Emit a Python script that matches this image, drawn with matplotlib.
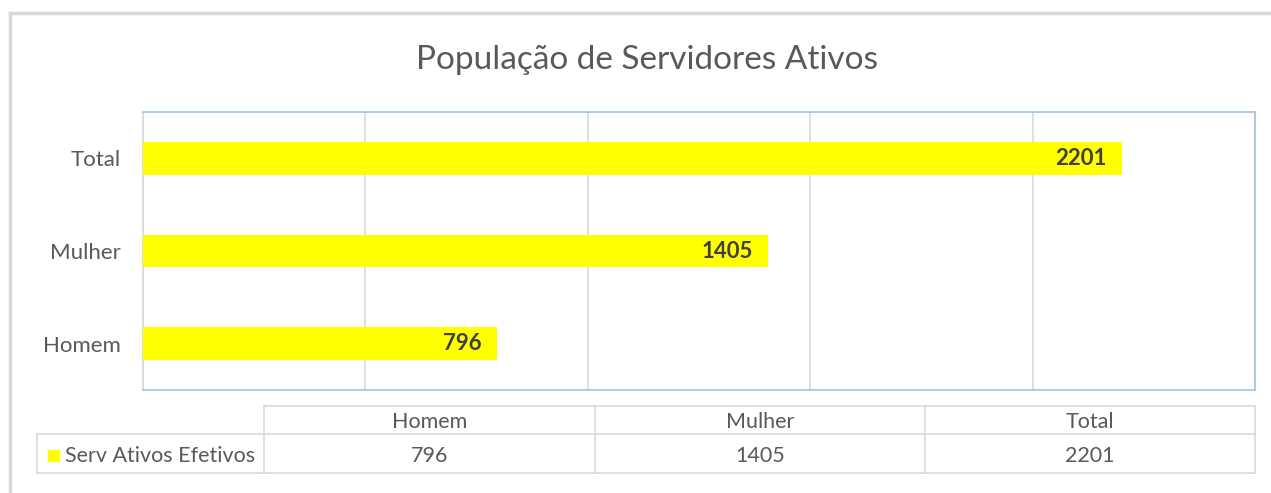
import matplotlib.pyplot as plt
from matplotlib.lines import Line2D
from matplotlib.patches import Rectangle

plt.rcParams['font.family'] = ['Lato', 'DejaVu Sans']

categories = ['Homem', 'Mulher', 'Total']
values = [796, 1405, 2201]
series_name = 'Serv Ativos Efetivos'
title = 'População de Servidores Ativos'
xticks = [0, 500, 1000, 1500, 2000, 2500]

W, H = 1271, 493
fig = plt.figure(figsize=(W / 100, H / 100), dpi=100)

# background axes in pixel coords (frame + data table)
bg = fig.add_axes([0, 0, 1, 1])
bg.set_xlim(0, W)
bg.set_ylim(H, 0)
bg.axis('off')
bg.add_line(Line2D([9.5, 9.5], [13, H], color='#d9d9d9', lw=2.5))
bg.add_line(Line2D([9.5, W], [13, 13], color='#d9d9d9', lw=2.5))

# chart
L, R, T, B = 143, 1255, 112, 390
ax = fig.add_axes([L / W, 1 - B / H, (R - L) / W, (B - T) / H])
ypos = range(len(categories))
ax.barh(ypos, values, height=0.35, color='#ffff00', zorder=3)
for y, v in zip(ypos, values):
    ax.annotate(str(v), (v, y), xytext=(-11, 0), textcoords='offset points',
                ha='right', va='center', fontsize=16, fontweight='bold',
                color='#404040', zorder=4)
ax.set_xlim(xticks[0], xticks[-1])
ax.set_ylim(-0.5, len(categories) - 0.5)
ax.set_xticks(xticks)
ax.set_xticklabels([])
ax.tick_params(axis='x', length=0)
ax.set_yticks(list(ypos))
ax.set_yticklabels(categories, fontsize=16, color='#595959')
ax.tick_params(axis='y', length=0, pad=16)
ax.grid(axis='x', color='#d9d9d9', lw=1.2, zorder=0)
for s in ['top', 'right', 'bottom']:
    ax.spines[s].set_color('#9dc3e6')
    ax.spines[s].set_linewidth(1.2)
ax.spines['left'].set_color('#d9d9d9')
ax.spines['left'].set_linewidth(1.2)

fig.text(647 / W, 1 - 60 / H, title, ha='center', va='center',
         fontsize=24, color='#595959')

# data table
col_x = [37, 264, 595, 925, 1255]
row_y = [406, 434, 473]
gc = '#d9d9d9'
bg.add_line(Line2D([col_x[1], col_x[-1]], [row_y[0], row_y[0]], color=gc, lw=1.2))
bg.add_line(Line2D([col_x[0], col_x[-1]], [row_y[1], row_y[1]], color=gc, lw=1.2))
bg.add_line(Line2D([col_x[0], col_x[-1]], [row_y[2], row_y[2]], color=gc, lw=1.2))
bg.add_line(Line2D([col_x[0], col_x[0]], [row_y[1], row_y[2]], color=gc, lw=1.2))
for x in col_x[1:]:
    bg.add_line(Line2D([x, x], [row_y[0], row_y[2]], color=gc, lw=1.2))
for i, (c, v) in enumerate(zip(categories, values)):
    cx = (col_x[i + 1] + col_x[i + 2]) / 2
    bg.text(cx, (row_y[0] + row_y[1]) / 2 + 2, c, ha='center', va='center',
            fontsize=15.5, color='#595959')
    bg.text(cx, (row_y[1] + row_y[2]) / 2 + 2, str(v), ha='center', va='center',
            fontsize=15.5, color='#595959')
bg.add_patch(Rectangle((48, 450), 11, 11, color='#ffff00'))
bg.text(65, (row_y[1] + row_y[2]) / 2 + 2, series_name, ha='left', va='center',
        fontsize=15.5, color='#595959')

fig.savefig('out.png', dpi=100)
